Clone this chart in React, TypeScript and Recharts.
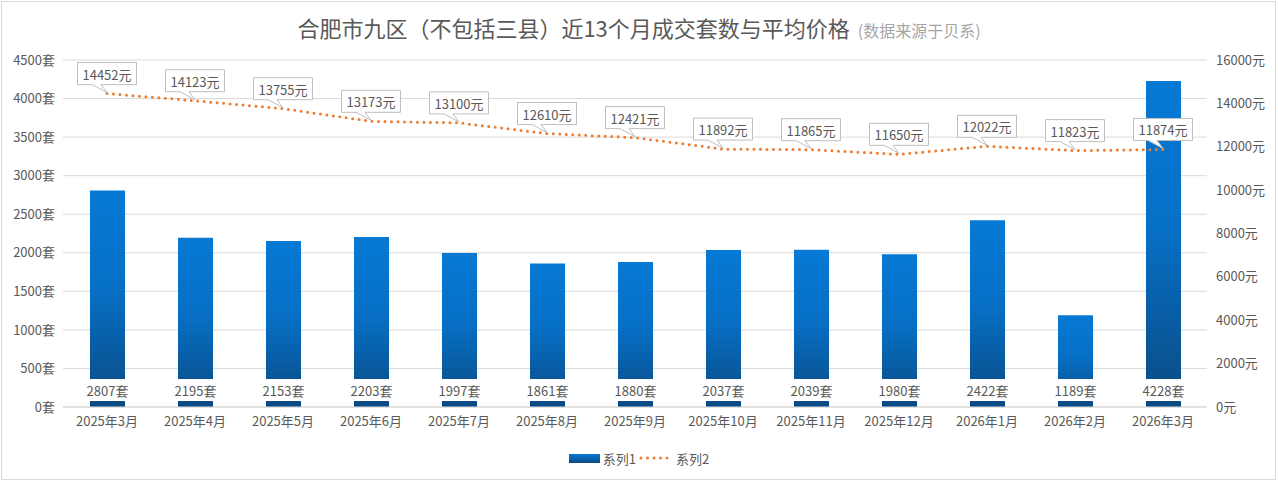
import React from "react";
import {
  ComposedChart,
  Bar,
  Line,
  XAxis,
  YAxis,
  CartesianGrid,
  LabelList,
} from "recharts";

const months = [
  "2025年3月", "2025年4月", "2025年5月", "2025年6月", "2025年7月", "2025年8月",
  "2025年9月", "2025年10月", "2025年11月", "2025年12月", "2026年1月", "2026年2月", "2026年3月",
];
const deals = [2807, 2195, 2153, 2203, 1997, 1861, 1880, 2037, 2039, 1980, 2422, 1189, 4228];
const prices = [14452, 14123, 13755, 13173, 13100, 12610, 12421, 11892, 11865, 11650, 12022, 11823, 11874];
const leftTicks = [0, 500, 1000, 1500, 2000, 2500, 3000, 3500, 4000, 4500];
const rightTicks = [0, 2000, 4000, 6000, 8000, 10000, 12000, 14000, 16000];

const data = months.map((m, i) => ({ month: m, s1: deals[i], s2: prices[i] }));

const FONT = '"Noto Sans CJK SC", "Noto Sans", sans-serif';
const TXT = "#595959";

const BarLabel = (props: any) => {
  const { x, y, width, height, value } = props;
  const cx = x + width / 2;
  const bottom = y + height;
  return (
    <g>
      <rect x={cx - 27} y={bottom - 28} width={54} height={22} fill="#ffffff" />
      <text
        x={cx}
        y={bottom - 17}
        textAnchor="middle"
        dominantBaseline="central"
        fontSize={13}
        fill={TXT}
        fontFamily={FONT}
      >
        {value}套
      </text>
    </g>
  );
};

const PriceLabel = (props: any) => {
  const { x, y, value } = props;
  const w = 59;
  const h = 22;
  const bottom = y - 9;
  const top = bottom - h;
  const left = x - w / 2;
  const right = x + w / 2;
  const d = `M${left},${top} L${right},${top} L${right},${bottom} L${x - 6},${bottom} L${x},${y - 1} L${x - 15},${bottom} L${left},${bottom} Z`;
  return (
    <g>
      <path d={d} fill="#ffffff" stroke="#bfbfbf" strokeWidth={1} />
      <text
        x={x}
        y={top + h / 2 + 0.5}
        textAnchor="middle"
        dominantBaseline="central"
        fontSize={13}
        fill={TXT}
        fontFamily={FONT}
      >
        {value}元
      </text>
    </g>
  );
};

export default function App() {
  return (
    <div style={{ position: "relative", width: 1278, height: 482, background: "#fff", fontFamily: FONT }}>
      <style>{`body{margin:0;}`}</style>
      <div
        style={{
          position: "absolute",
          left: 1,
          top: 1,
          width: 1275,
          height: 479,
          border: "1px solid #d9d9d9",
          boxSizing: "border-box",
        }}
      />
      <div
        style={{
          position: "absolute",
          left: 0,
          top: 11,
          width: 1278,
          textAlign: "center",
          whiteSpace: "nowrap",
          color: TXT,
          fontSize: 22,
          lineHeight: "32px",
        }}
      >
        合肥市九区（不包括三县）近13个月成交套数与平均价格
        <span style={{ color: "#a6a6a6", fontSize: 16, marginLeft: 8 }}>(数据来源于贝系)</span>
      </div>
      <ComposedChart
        width={1278}
        height={482}
        data={data}
        margin={{ top: 60, right: 0, left: 0, bottom: 45 }}
        style={{ position: "absolute", left: 0, top: 0 }}
      >
        <defs>
          <linearGradient id="barGrad" x1="0" y1="0" x2="0" y2="1">
            <stop offset="0%" stopColor="#0679d4" />
            <stop offset="45%" stopColor="#0670c6" />
            <stop offset="100%" stopColor="#0b4a82" />
          </linearGradient>
        </defs>
        <CartesianGrid vertical={false} stroke="#d9d9d9" yAxisId="left" />
        <XAxis
          dataKey="month"
          tickLine={false}
          axisLine={{ stroke: "#d9d9d9" }}
          tick={{ fontSize: 13, fill: TXT, fontFamily: FONT }}
          tickMargin={4}
          height={30}
          interval={0}
        />
        <YAxis
          yAxisId="left"
          domain={[0, 4500]}
          ticks={leftTicks}
          width={63}
          tickLine={false}
          axisLine={false}
          tickFormatter={(v: number) => `${v}套`}
          tick={{ fontSize: 13, fill: TXT, fontFamily: FONT }}
          interval={0}
        />
        <YAxis
          yAxisId="right"
          orientation="right"
          domain={[0, 16000]}
          ticks={rightTicks}
          width={71}
          tickLine={false}
          axisLine={false}
          tickMargin={3}
          tickFormatter={(v: number) => `${v}元`}
          tick={{ fontSize: 13, fill: TXT, fontFamily: FONT, textAnchor: "start" }}
          interval={0}
        />
        <Bar yAxisId="left" dataKey="s1" fill="url(#barGrad)" barSize={35} isAnimationActive={false}>
          <LabelList dataKey="s1" content={BarLabel} />
        </Bar>
        <Line
          yAxisId="right"
          dataKey="s2"
          stroke="#ed7d31"
          strokeWidth={3}
          strokeDasharray="0 6.5"
          strokeLinecap="round"
          dot={false}
          activeDot={false}
          isAnimationActive={false}
        >
          <LabelList dataKey="s2" content={PriceLabel} />
        </Line>
      </ComposedChart>
      <div
        style={{
          position: "absolute",
          left: 0,
          top: 448,
          width: 1278,
          display: "flex",
          justifyContent: "center",
          alignItems: "center",
          fontSize: 13,
          color: TXT,
          height: 20,
        }}
      >
        <span
          style={{
            display: "inline-block",
            width: 31,
            height: 9,
            background: "linear-gradient(#0679d4, #0b4a82)",
            marginRight: 3,
          }}
        />
        <span>系列1</span>
        <svg width={34} height={10} style={{ margin: "0 4px 0 2px" }}>
          <line x1={3} y1={5} x2={31} y2={5} stroke="#ed7d31" strokeWidth={3} strokeDasharray="0 6.5" strokeLinecap="round" />
        </svg>
        <span>系列2</span>
      </div>
    </div>
  );
}
